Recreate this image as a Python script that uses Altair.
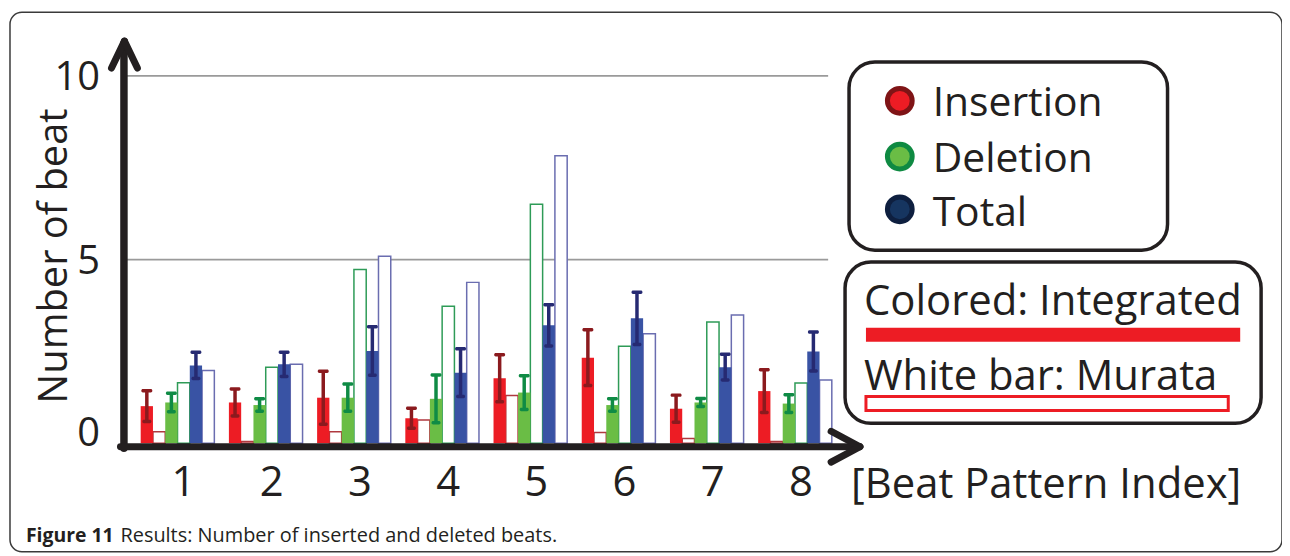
import altair as alt
import pandas as pd

# ---------------- data ----------------
groups = [1, 2, 3, 4, 5, 6, 7, 8]
cats = ["Insertion", "Deletion", "Total"]

ins_int = [1.01, 1.11, 1.24, 0.68, 1.77, 2.33, 0.94, 1.42]
ins_err = [0.42, 0.37, 0.72, 0.27, 0.64, 0.76, 0.37, 0.58]
ins_mur = [0.31, 0.05, 0.31, 0.63, 1.30, 0.29, 0.13, 0.05]

del_int = [1.11, 1.04, 1.24, 1.21, 1.38, 1.04, 1.11, 1.08]
del_err = [0.25, 0.17, 0.37, 0.65, 0.46, 0.17, 0.11, 0.24]
del_mur = [1.65, 2.07, 4.73, 3.73, 6.51, 2.64, 3.30, 1.64]

tot_int = [2.12, 2.15, 2.51, 1.92, 3.21, 3.40, 2.07, 2.50]
tot_err = [0.36, 0.33, 0.66, 0.65, 0.56, 0.71, 0.35, 0.53]
tot_mur = [1.98, 2.15, 5.09, 4.38, 7.83, 2.98, 3.49, 1.72]

grid_vals = [5, 10]
y_ticks = [0, 5, 10]

series = {
    "Insertion": (ins_int, ins_err, ins_mur),
    "Deletion": (del_int, del_err, del_mur),
    "Total": (tot_int, tot_err, tot_mur),
}
rows = []
for cat in cats:
    vi, ve, vm = series[cat]
    for i, g in enumerate(groups):
        rows.append({"group": g, "cat": cat, "src": "Integrated",
                     "slot": cat + "-Integrated", "value": vi[i], "err": ve[i]})
        rows.append({"group": g, "cat": cat, "src": "Murata",
                     "slot": cat + "-Murata", "value": vm[i], "err": 0.0})
df = pd.DataFrame(rows)
slots = [c + s for c in cats for s in ("-Integrated", "-Murata")]
grid_df = pd.DataFrame({"grid": grid_vals})

# ---------------- styling ----------------
FONT = "Open Sans"
INK = "#231f20"
fill_cols = ["#ed1c24", "#6abd45", "#3953a4"]
outline_cols = ["#b0393f", "#2e9b57", "#6a6db0"]
err_cols = ["#8b1a1e", "#0f8b45", "#262a72"]

# plot area placement (page pixels)
PX0, PY0 = 134, 75
PW, PH = 709, 369
W, H = 1280, 548


def X(p):
    return p - PX0


def Y(p):
    return p - PY0


one = alt.Data(values=[{"k": 0}])

x_enc = alt.X("group:O",
              scale=alt.Scale(paddingInner=0.165, paddingOuter=0.0825),
              axis=alt.Axis(title=None, labelAngle=0, domain=False, ticks=False,
                            labelFontSize=42, labelFont=FONT, labelColor=INK,
                            labelPadding=20, labelOffset=6, zindex=2))
xoff_enc = alt.XOffset("slot:N", scale=alt.Scale(domain=slots, paddingInner=0, paddingOuter=0))
y_scale = alt.Scale(domain=[0, 10], nice=False, zero=True)
y_axis = alt.Axis(title=None, values=y_ticks, domain=False, ticks=False, grid=False,
                  labelFontSize=40, labelFont=FONT, labelColor=INK, labelPadding=34, zindex=2,
                  labelOffset={"condition": {"test": "datum.value === 0", "value": -10}, "value": 2})


def rule(x1, y1, x2, y2, color=INK, w=7):
    return alt.Chart(one).mark_rule(color=color, strokeWidth=w, strokeCap="round").encode(
        x=alt.value(X(x1)), y=alt.value(Y(y1)), x2=alt.value(X(x2)), y2=alt.value(Y(y2)))


def box(x1, y1, x2, y2, stroke=INK, sw=3.5, radius=26, fill="white", fill_opacity=1):
    return alt.Chart(one).mark_rect(fill=fill, fillOpacity=fill_opacity, stroke=stroke,
                                    strokeWidth=sw, cornerRadius=radius).encode(
        x=alt.value(X(x1)), y=alt.value(Y(y1)), x2=alt.value(X(x2)), y2=alt.value(Y(y2)))


def text(s, x, y, size, weight="normal", align="left", baseline="alphabetic", angle=0):
    return alt.Chart(one).mark_text(text=s, font=FONT, fontSize=size, fontWeight=weight,
                                    align=align, baseline=baseline, color=INK, angle=angle).encode(
        x=alt.value(X(x)), y=alt.value(Y(y)))


def dot(x, y, fill, stroke):
    return alt.Chart(one).mark_circle(size=620, fill=fill, stroke=stroke, strokeWidth=5, opacity=1).encode(
        x=alt.value(X(x)), y=alt.value(Y(y)))


# outer frame (transparent inside)
frame = box(10, 11, 1288, 553, stroke="#3a3a3a", sw=1.5, radius=12, fill="white", fill_opacity=0)

# gridlines
grid = alt.Chart(grid_df).mark_rule(color="#9a9a9a", strokeWidth=1.8).encode(
    y=alt.Y("grid:Q", scale=y_scale, axis=y_axis),
    x=alt.value(X(126)), x2=alt.value(X(832)))

base = alt.Chart(df)

white_bars = base.transform_filter(alt.datum.src == "Murata").mark_bar(
    fill="white", strokeWidth=1.5).encode(
    x=x_enc, xOffset=xoff_enc,
    y=alt.Y("value:Q", scale=y_scale, axis=y_axis),
    stroke=alt.Stroke("cat:N", scale=alt.Scale(domain=cats, range=outline_cols), legend=None))

col_bars = base.transform_filter(alt.datum.src == "Integrated").mark_bar().encode(
    x=x_enc, xOffset=xoff_enc,
    y=alt.Y("value:Q", scale=y_scale, axis=y_axis),
    fill=alt.Fill("cat:N", scale=alt.Scale(domain=cats, range=fill_cols), legend=None))

err_base = base.transform_filter(alt.datum.src == "Integrated").transform_calculate(
    lo="datum.value - datum.err", hi="datum.value + datum.err")
err_color = alt.Color("cat:N", scale=alt.Scale(domain=cats, range=err_cols), legend=None)

err_rule = err_base.mark_rule(strokeWidth=3.5).encode(
    x=x_enc, xOffset=xoff_enc,
    y=alt.Y("lo:Q", scale=y_scale, axis=y_axis), y2="hi:Q", color=err_color)
cap_top = err_base.mark_tick(thickness=3.5, size=11, cornerRadius=1.5, opacity=1).encode(
    x=x_enc, xOffset=xoff_enc,
    y=alt.Y("hi:Q", scale=y_scale, axis=y_axis), color=err_color)
cap_bot = err_base.mark_tick(thickness=3.5, size=9, cornerRadius=1.5, opacity=1).encode(
    x=x_enc, xOffset=xoff_enc,
    y=alt.Y("lo:Q", scale=y_scale, axis=y_axis), color=err_color)

# axes lines with arrows
axes = [
    rule(124.5, 42, 124.5, 449, w=7.5),
    rule(125, 40, 112, 67, w=7),
    rule(125, 40, 138, 67, w=7),
    rule(121, 447.5, 862, 447.5, w=7),
    rule(864, 447.5, 835, 432, w=7),
    rule(864, 447.5, 835, 463, w=7),
]

# legend
legend = [
    box(853, 61, 1173, 250),
    dot(904, 100, "#ed1c24", "#7f1416"),
    dot(904, 156, "#6abd45", "#0f8a42"),
    dot(904, 209, "#163560", "#0e1f3f"),
    text("Insertion", 937, 115, 41),
    text("Deletion", 937, 171, 41),
    text("Total", 937, 226, 41),
    box(849, 262, 1267, 424),
    text("Colored: Integrated", 868, 315, 42),
    box(870, 328, 1246, 342, stroke="#ed1c24", sw=0, radius=0, fill="#ed1c24"),
    text("White bar: Murata", 868, 391, 42),
    box(870, 397, 1234, 411, stroke="#ed1c24", sw=3, radius=0, fill="white"),
]

labels = [
    text("Number of beat", 55, 256, 40, align="center", baseline="middle", angle=270),
    text("[Beat Pattern Index]", 855, 499, 42),
    text("Figure 11", 26, 543, 19.5, weight="bold"),
    text("Results: Number of inserted and deleted beats.", 121, 543, 20),
]

chart = alt.layer(
    frame, grid, white_bars, col_bars, err_rule, cap_top, cap_bot,
    *axes, *legend, *labels
).properties(
    width=PW, height=PH,
    autosize=alt.AutoSizeParams(type="none"),
    padding={"left": PX0 - 8, "top": PY0 - 8,
             "right": W - (PX0 - 8) - PW, "bottom": H - (PY0 - 8) - PH},
    background="white",
).configure_view(strokeWidth=0)

chart.save("out.html", embed_options={"renderer": "svg", "actions": False})
